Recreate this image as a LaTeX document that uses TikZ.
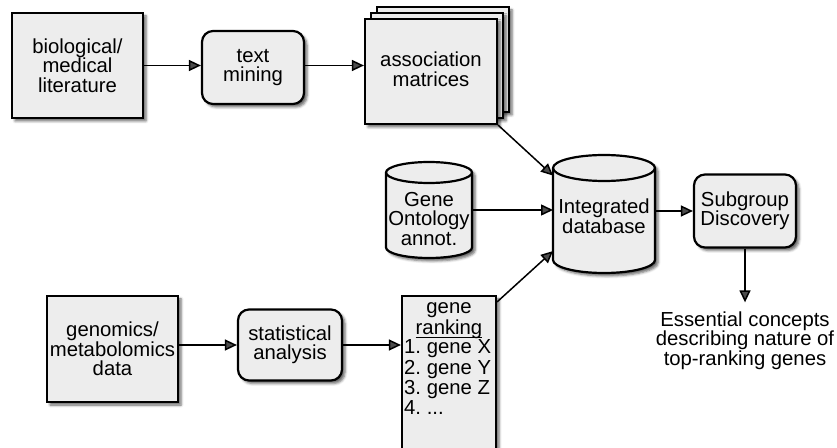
\documentclass[tikz,border=0pt]{standalone}
\usepackage{fontspec}
\setmainfont{Liberation Sans}
\usetikzlibrary{arrows.meta,shadows.blur,calc}

\tikzset{
  boxfill/.style={draw=black, line width=2.2pt, fill=gray!14},
  shad/.style={blur shadow={shadow xshift=3pt, shadow yshift=-3pt,
      shadow blur radius=2.5pt, shadow opacity=60}},
  txt/.style={font=\fontsize{20.3}{19.5}\selectfont\frenchspacing, align=center, text=black},
  sqbox/.style={boxfill, shad, rectangle, inner sep=0pt, txt},
  rbox/.style={sqbox, rounded corners=11pt},
  conn/.style={line width=1.5pt, -{Triangle[length=12pt,width=11pt]}},
  anchorbox/.style={rectangle, inner sep=0pt, outer sep=0pt}
}

\begin{document}
\begin{tikzpicture}[x=1pt, y=1pt]
  \useasboundingbox (0,0) rectangle (837,447);

  % --- literature branch ---
  \node[sqbox, minimum width=131pt, minimum height=105pt] (bio) at (77.5,381.5)
    {biological/\\medical\\literature};
  \node[rbox, minimum width=102pt, minimum height=73pt] (tm) at (253,379.5)
    {text\\mining};
  % stacked sheets of association matrices
  \node[sqbox, minimum width=132pt, minimum height=105pt] (am3) at (443,387.5) {};
  \node[sqbox, minimum width=132pt, minimum height=105pt] (am2) at (437,381.5) {};
  \node[sqbox, minimum width=132pt, minimum height=105pt] (am) at (431,375.5) {};
  \node[txt, inner sep=0pt] (amt) at (431,378) {association\\matrices};

  % --- Gene Ontology cylinder ---
  \path[boxfill, shad] (386,274.5) -- (386,199.5)
    arc[start angle=180, end angle=360, x radius=43pt, y radius=10.5pt]
    -- (472,274.5)
    arc[start angle=0, end angle=180, x radius=43pt, y radius=10.5pt] -- cycle;
  \draw[line width=2.2pt] (386,274.5)
    arc[start angle=180, end angle=360, x radius=43pt, y radius=10.5pt];
  \node[anchorbox, minimum width=86pt, minimum height=96pt] (go) at (429,237) {};
  \node[txt, inner sep=0pt] (got) at (429,228) {Gene\\Ontology\\annot.};

  % --- Integrated database cylinder ---
  \path[boxfill, shad] (553,279) -- (553,187)
    arc[start angle=180, end angle=360, x radius=51pt, y radius=13pt]
    -- (655,279)
    arc[start angle=0, end angle=180, x radius=51pt, y radius=13pt] -- cycle;
  \draw[line width=2.2pt] (553,279)
    arc[start angle=180, end angle=360, x radius=51pt, y radius=13pt];
  \node[anchorbox, minimum width=102pt, minimum height=118pt] (db) at (604,233) {};
  \node[txt, inner sep=0pt] (dbt) at (604,231) {Integrated\\database};

  % --- Subgroup discovery and result ---
  \node[rbox, minimum width=102pt, minimum height=73pt] (sd) at (745,236)
    {Subgroup\\Discovery};
  \node[txt, inner sep=0pt] (ess) at (745,106.5)
    {Essential concepts\\describing nature of\\top-ranking genes};

  % --- experimental data branch ---
  \node[sqbox, minimum width=131pt, minimum height=106pt] (gen) at (112.5,98)
    {genomics/\\metabolomics\\data};
  \node[rbox, minimum width=104pt, minimum height=71pt] (stat) at (290,102)
    {statistical\\analysis};
  \node[sqbox, minimum width=94pt, minimum height=161pt] (gr) at (449,70.5) {};
  \node[txt, inner sep=0pt, anchor=base] (grh) at (449,133) {gene};
  \node[txt, inner sep=0pt, anchor=base] (grk) at (449,113) {ranking};
  \draw[line width=1pt] ([yshift=-3.5pt]grk.base west) -- ([yshift=-3.5pt]grk.base east);
  \node[txt, inner sep=0pt, anchor=base west] (g1) at (404,93) {1. gene X};
  \node[txt, inner sep=0pt, anchor=base west] (g2) at (404,73) {2. gene Y};
  \node[txt, inner sep=0pt, anchor=base west] (g3) at (404,53) {3. gene Z};
  \node[txt, inner sep=0pt, anchor=base west] (g4) at (404,33) {4. ...};

  % --- connectors ---
  \draw[conn] (bio.east) -- (bio.east -| tm.west);
  \draw[conn] (tm.east |- bio.east) -- (bio.east -| am.west);
  \draw[conn] (am.south east) -- (db.143);
  \draw[conn] (go.east) -- (go.east -| db.west);
  \draw[conn] ([yshift=-7pt]gr.north east) -- (db.216);
  \draw[conn] (sd.west -| db.east) -- (sd.west);
  \draw[conn] (sd.south) -- ([yshift=9pt]ess.north);
  \draw[conn] (stat.west -| gen.east) -- (stat.west);
  \draw[conn] (stat.east) -- (stat.east -| gr.west);
\end{tikzpicture}
\end{document}
